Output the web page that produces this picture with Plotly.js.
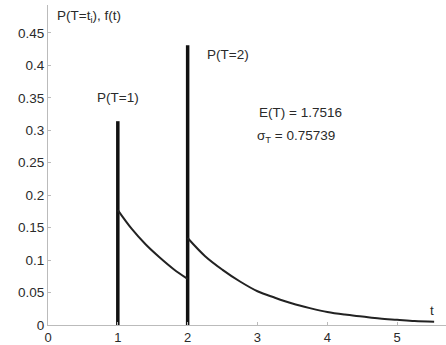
<!DOCTYPE html>
<html><head><meta charset="utf-8">
<script src="https://cdn.plot.ly/plotly-3.0.1.min.js"></script>
<style>html,body{margin:0;padding:0;background:#fff}#c{width:446px;height:345px}</style>
</head><body><div id="c"></div>
<script>
const spikeT = [1, 2];
const spikeP = [0.314, 0.431];
const t1 = [1.0, 1.2, 1.4, 1.6, 1.8, 2.0];
const f1 = [0.177, 0.148, 0.124, 0.104, 0.086, 0.071];
const t2 = [2.0, 2.25, 2.5, 2.75, 3.0, 3.25, 3.5, 3.75, 4.0, 4.25, 4.5, 4.75, 5.0, 5.25, 5.53];
const f2 = [0.134, 0.106, 0.085, 0.067, 0.052, 0.042, 0.033, 0.026, 0.020, 0.016, 0.013, 0.010, 0.008, 0.006, 0.005];
const xTicks = [0, 1, 2, 3, 4, 5];
const yTicks = [0, 0.05, 0.1, 0.15, 0.2, 0.25, 0.3, 0.35, 0.4, 0.45];
const yTickText = ['0', '0.05', '0.1', '0.15', '0.2', '0.25', '0.3', '0.35', '0.4', '0.45'];

const sx = [], sy = [];
spikeT.forEach((t, i) => { sx.push(t, t, null); sy.push(0, spikeP[i], null); });

const font = {family: 'Liberation Sans, Arial, sans-serif', size: 13.5, color: '#2a2a2a'};
const xfont = Object.assign({}, font, {size: 13});
const traces = [
  {x: sx, y: sy, mode: 'lines', line: {color: '#111', width: 3.5}, hoverinfo: 'skip', cliponaxis: false},
  {x: t1, y: f1, mode: 'lines', line: {color: '#222', width: 2, shape: 'spline'}},
  {x: t2, y: f2, mode: 'lines', line: {color: '#222', width: 2, shape: 'spline'}}
];
const ann = (x, y, text, xa) => ({x, y, xref: 'x', yref: 'y', text, showarrow: false, xanchor: xa || 'left', yanchor: 'middle', font});
const layout = {
  width: 446, height: 345,
  margin: {l: 48, r: 0, t: 5, b: 20},
  paper_bgcolor: '#fff', plot_bgcolor: '#fff',
  showlegend: false,
  xaxis: {range: [0, 5.70], tickvals: xTicks, ticktext: xTicks.map(String), showgrid: false, zeroline: false,
    showline: true, linecolor: '#bbb', linewidth: 1, ticks: 'inside', ticklen: 3, tickcolor: '#bbb', tickfont: xfont, fixedrange: true},
  yaxis: {range: [0, 0.493], tickvals: yTicks, ticktext: yTickText, showgrid: false, zeroline: false,
    showline: true, linecolor: '#bbb', linewidth: 1, ticks: 'inside', ticklen: 3, tickcolor: '#bbb', tickfont: font, fixedrange: true},
  annotations: [
    ann(0.10, 0.475, 'P(T=t<sub>i</sub>), f(t)'),
    ann(0.67, 0.350, 'P(T=1)'),
    ann(2.25, 0.416, 'P(T=2)'),
    ann(2.99, 0.328, 'E(T) = 1.7516'),
    ann(2.97, 0.290, 'σ<sub>T</sub> = 0.75739'),
    ann(5.50, 0.023, 't', 'center')
  ]
};
Plotly.newPlot('c', traces, layout, {displayModeBar: false, staticPlot: true});
</script></body></html>
